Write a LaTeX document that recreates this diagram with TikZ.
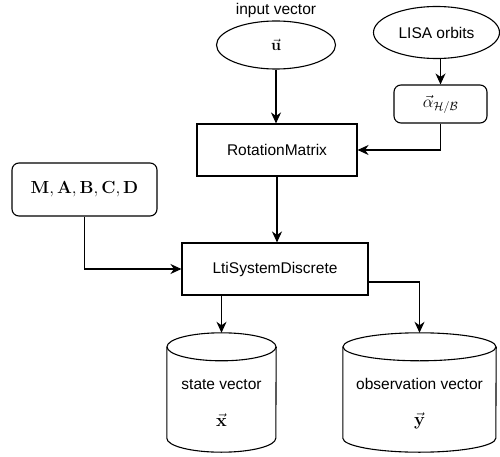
\RequirePackage{fix-cm}
\documentclass[tikz,border=0pt]{standalone}
\usepackage[no-math]{fontspec}
\setmainfont{Liberation Sans}
\usetikzlibrary{arrows.meta,calc,shapes.geometric}
\newcommand{\fsz}[1]{\fontsize{#1}{#1}\selectfont}
\tikzset{
  every node/.style={font=\fsz{15.5}},
  boxnode/.style={draw, line width=1.1pt, inner sep=0pt},
  rboxnode/.style={boxnode, rounded corners=7pt},
  ellnode/.style={draw, line width=1.1pt, ellipse, inner sep=0pt},
  cylnode/.style={draw=none, inner sep=0pt},
  cylline/.style={line width=1.1pt},
  arr/.style={line width=1.1pt, -{Stealth[length=11pt,width=10pt,inset=3.5pt]}}
}
\begin{document}
\begin{tikzpicture}[x=1pt,y=-1pt]
\useasboundingbox (0,0) rectangle (500,457);
% nodes
\node (lbl) at (276,10) {input vector};
\node[ellnode, minimum width=119pt, minimum height=48pt, font=\fsz{16}] (u) at (276,45) {$\vec{\mathbf{u}}$};
\node[ellnode, minimum width=126pt, minimum height=52pt] (lisa) at (436.5,32.5) {LISA orbits};
\node[rboxnode, minimum width=93pt, minimum height=38pt, font=\fsz{17}] (alpha) at (440.5,104) {$\vec{\alpha}_{\mathcal{H}/\mathcal{B}}$};
\node[boxnode, minimum width=160pt, minimum height=52pt] (rot) at (277,150) {RotationMatrix};
\node[rboxnode, minimum width=145pt, minimum height=53pt, font=\fsz{17.5}] (mat) at (84.5,189.5) {$\mathbf{M},\mathbf{A},\mathbf{B},\mathbf{C},\mathbf{D}$};
\node[boxnode, minimum width=186pt, minimum height=52pt] (lti) at (275,269) {LtiSystemDiscrete};
\node[cylnode, minimum width=109pt, minimum height=119pt] (st) at (221.5,392.5) {};
\node[cylnode, minimum width=153pt, minimum height=119pt] (ob) at (419.5,392.5) {};
\node (stt) at (221.5,385) {state vector};
\node[font=\fsz{18}] (stx) at (221.5,420) {$\vec{\mathbf{x}}$};
\node (obt) at (419.5,384) {observation vector};
\node[font=\fsz{18}] (oby) at (419.5,421) {$\vec{\mathbf{y}}$};
% cylinders
\foreach \n/\r in {st/54.5, ob/76.5} {
  \draw[cylline] ([yshift=-14pt]\n.north west) -- ([yshift=14pt]\n.south west)
    arc[start angle=180, end angle=360, x radius=\r pt, y radius=14pt]
    -- ([yshift=-14pt]\n.north east);
  \draw[cylline] ([yshift=-14pt]\n.north) ellipse[x radius=\r pt, y radius=14pt];
}
% connectors
\draw[arr] (u.south) -- (u.south |- rot.north);
\draw[arr] (lisa.south -| alpha) -- (alpha.north);
\draw[arr] (alpha.south) |- (rot.east);
\draw[arr] (mat.south) |- (lti.west);
\draw[arr] (rot.south) -- (rot.south |- lti.north);
\draw[arr] (lti.south -| st) -- (st.north);
\draw[arr] ([yshift=-13pt]lti.east) -| (ob.north);
\end{tikzpicture}
\end{document}
